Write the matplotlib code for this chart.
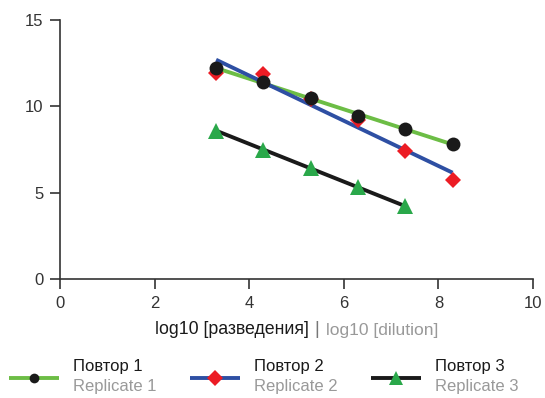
import numpy as np
import matplotlib
matplotlib.use("Agg")
import matplotlib.pyplot as plt
from matplotlib.lines import Line2D

plt.rcParams['font.family'] = ['Liberation Sans', 'DejaVu Sans']

# Data
log_dilution = [3.3, 4.3, 5.3, 6.3, 7.3, 8.3]
rep1 = [12.2, 11.4, 10.46, 9.46, 8.67, 7.84]
rep2 = [11.95, 11.87, 10.42, 9.2, 7.41, 5.71]
log_dilution3 = [3.3, 4.3, 5.3, 6.3, 7.3]
rep3 = [8.58, 7.48, 6.45, 5.31, 4.2]

labels_ru = ["Повтор 1", "Повтор 2", "Повтор 3"]
labels_en = ["Replicate 1", "Replicate 2", "Replicate 3"]
xticks = [0, 2, 4, 6, 8, 10]
yticks = [0, 5, 10, 15]

W, H = 545, 398
fig = plt.figure(figsize=(W / 100, H / 100), dpi=100)
ax = fig.add_axes([60 / W, 1 - 279 / H, (533 - 60) / W, (279 - 20) / H])

c_green_line = "#6cbd45"
c_blue = "#2e4fa3"
c_black = "#1a1a1a"
c_red = "#ec1c24"
c_tri = "#2aa84a"
FS = 12

series = [
    (log_dilution, rep2, c_blue, "D", c_red, 10),
    (log_dilution, rep1, c_green_line, "o", c_black, 10),
    (log_dilution3, rep3, c_black, "^", c_tri, 11),
]
# fit lines
for x, y, lc, m, mc, ms in [series[1], series[0], series[2]]:
    x = np.array(x); y = np.array(y)
    k, b = np.polyfit(x, y, 1)
    xs = np.array([x[0], x[-1]])
    ax.plot(xs, k * xs + b, color=lc, lw=2.8, solid_capstyle='butt', zorder=2)
# markers (diamonds under circles)
for x, y, lc, m, mc, ms in [series[0], series[2], series[1]]:
    ax.plot(x, y, ls='none', marker=m, color=mc, markersize=ms if m != "D" else 8.5,
            markeredgewidth=0, zorder=3)

ax.set_xlim(0, 10)
ax.set_ylim(0, 15)
ax.set_xticks(xticks)
ax.set_yticks(yticks)
for s in ['top', 'right']:
    ax.spines[s].set_visible(False)
for s in ['left', 'bottom']:
    ax.spines[s].set_color("#333333")
    ax.spines[s].set_linewidth(1.2)
ax.tick_params(axis='both', direction='out', length=7, width=1.2, color="#333333",
               labelsize=FS, labelcolor="#333333")
ax.tick_params(axis='x', pad=5)
ax.tick_params(axis='y', pad=5)

# x label in parts
fy = 1 - 330 / H
fig.text(309 / W, fy, "log10 [разведения]", ha='right', va='center', fontsize=12.8, color="#1a1a1a")
fig.text(317 / W, fy, "|", ha='center', va='center', fontsize=13.5, color="#777777")
fig.text(326 / W, fy, "log10 [dilution]", ha='left', va='center', fontsize=12.6, color="#999999")

# legend (manual)
leg_lines = [(c_green_line, "o", c_black, 7), (c_blue, "D", c_red, 8), (c_black, "^", c_tri, 10)]
x0s = [9, 190, 371]
for (lc, m, mc, ms), x0, lr, le in zip(leg_lines, x0s, labels_ru, labels_en):
    ly = 1 - 378 / H
    fig.add_artist(Line2D([x0 / W, (x0 + 50) / W], [ly, ly], color=lc, lw=2.8, solid_capstyle='butt'))
    fig.add_artist(Line2D([(x0 + 25) / W], [ly], ls='none', marker=m, color=mc, markersize=ms,
                          markeredgewidth=0))
    fig.text((x0 + 64) / W, 1 - 367 / H, lr, ha='left', va='center', fontsize=FS, color="#1a1a1a")
    fig.text((x0 + 64) / W, 1 - 387 / H, le, ha='left', va='center', fontsize=FS, color="#999999")

fig.savefig("out.png", dpi=100)
